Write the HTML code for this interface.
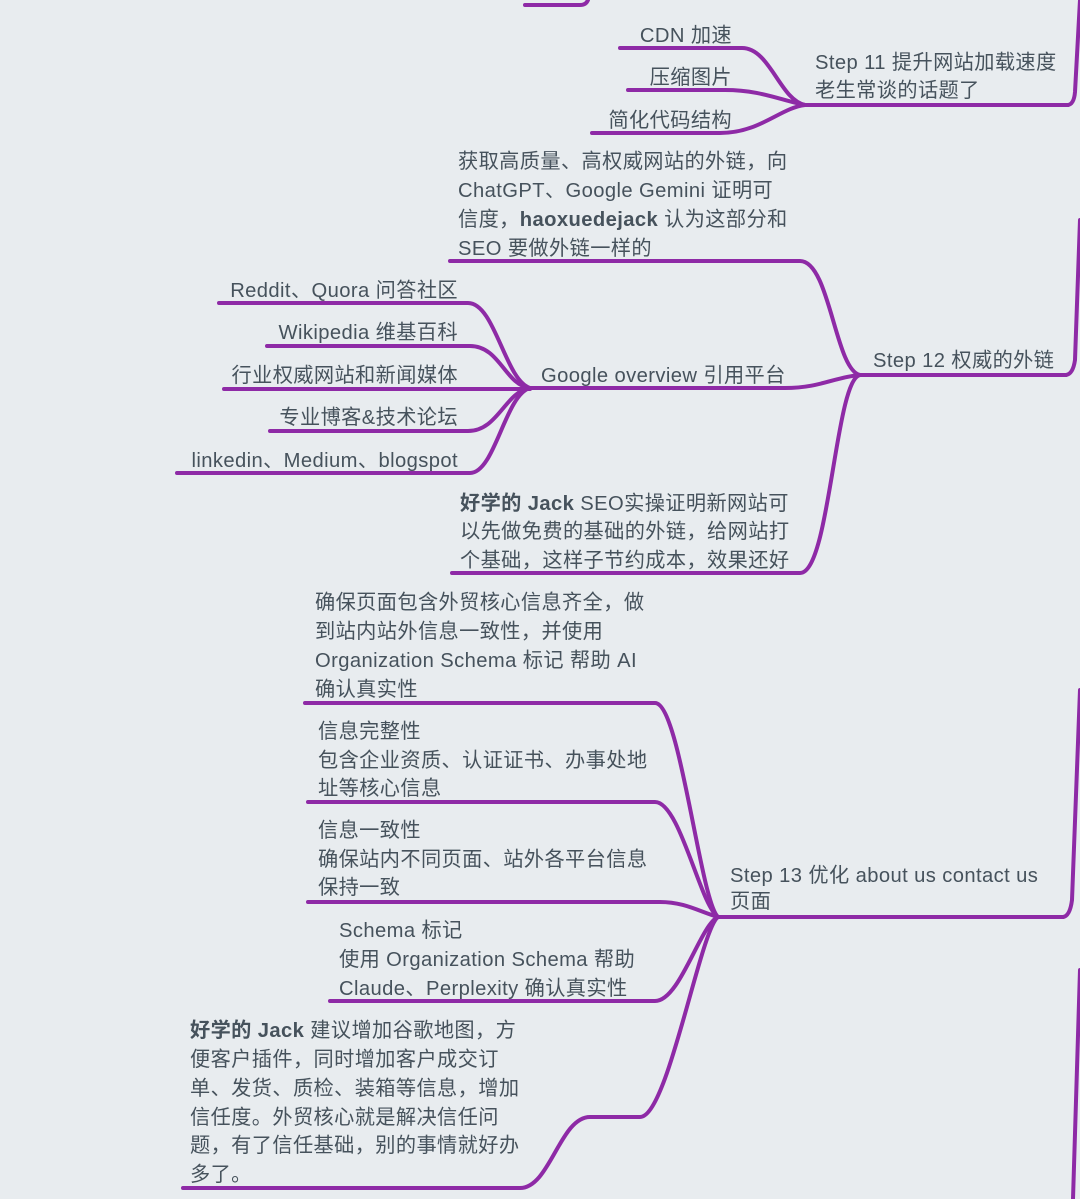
<!DOCTYPE html>
<html><head><meta charset="utf-8"><style>
html,body{margin:0;padding:0;background:#e8ecef;}
svg{display:block}
text{font-family:"Liberation Sans","Noto Sans CJK SC",sans-serif;font-size:20.2px;letter-spacing:0.4px;fill:#46525c;}
.b{font-weight:bold}
</style></head><body>
<svg width="1080" height="1199" viewBox="0 0 1080 1199" xmlns="http://www.w3.org/2000/svg">
<rect width="1080" height="1199" fill="#e8ecef"/>
<g fill="none" stroke="#8e2aa6" stroke-width="4" stroke-linecap="round">
<path d="M525 5 H580 Q586 5 588 0"/>
<path d="M1068 105 Q1074 104 1075 92 L1080 0"/>
<path d="M1066 375 Q1073 374 1075 360 L1080 220"/>
<path d="M1063 917 Q1070 916 1072 900 L1080 690"/>
<path d="M1073 1199 L1080 970"/>
<path d="M805 105 H1068"/>
<path d="M620 48 H742 C770 48 780 100 805 105"/>
<path d="M628 90 H725 C760 90 780 100 805 105"/>
<path d="M592 133 H720 C760 133 780 108 805 105"/>
<path d="M860 375 H1066"/>
<path d="M450 261 H800 C830 261 835 370 860 375"/>
<path d="M530 388 H785 C820 388 835 377 860 375"/>
<path d="M452 573 H800 C830 573 835 380 860 375"/>
<path d="M219 303 H468 C495 303 505 380 530 388"/>
<path d="M267 346 H470 C500 346 505 385 530 388"/>
<path d="M224 389 H530"/>
<path d="M270 431 H468 C498 431 505 392 530 388"/>
<path d="M177 473 H470 C495 473 505 395 530 388"/>
<path d="M718 917 H1063"/>
<path d="M305 703 H655 C680 703 700 900 718 917"/>
<path d="M308 802 H655 C680 802 700 905 718 917"/>
<path d="M308 902 H660 C685 902 700 912 718 917"/>
<path d="M330 1001 H655 C680 1001 700 925 718 917"/>
<path d="M183 1188 H520 C550 1188 560 1117 590 1117 H640 C668 1117 700 930 718 917"/>
</g>
<text x="815" y="69">Step 11 提升网站加载速度</text>
<text x="815" y="97">老生常谈的话题了</text>
<text x="732" y="42" text-anchor="end">CDN 加速</text>
<text x="732" y="84" text-anchor="end">压缩图片</text>
<text x="732" y="127" text-anchor="end">简化代码结构</text>
<text x="873" y="367">Step 12 权威的外链</text>
<text x="458" y="168">获取高质量、高权威网站的外链，向</text>
<text x="458" y="197">ChatGPT、Google Gemini 证明可</text>
<text x="458" y="226">信度，<tspan class="b">haoxuedejack</tspan> 认为这部分和</text>
<text x="458" y="255">SEO 要做外链一样的</text>
<text x="541" y="382">Google overview 引用平台</text>
<text x="458" y="297" text-anchor="end">Reddit、Quora 问答社区</text>
<text x="458" y="339" text-anchor="end">Wikipedia 维基百科</text>
<text x="458" y="382" text-anchor="end">行业权威网站和新闻媒体</text>
<text x="458" y="424" text-anchor="end">专业博客&amp;技术论坛</text>
<text x="458" y="467" text-anchor="end">linkedin、Medium、blogspot</text>
<text x="460" y="510"><tspan class="b">好学的 Jack</tspan> SEO实操证明新网站可</text>
<text x="460" y="538">以先做免费的基础的外链，给网站打</text>
<text x="460" y="567">个基础，这样子节约成本，效果还好</text>
<text x="730" y="882">Step 13 优化 about us contact us</text>
<text x="730" y="908">页面</text>
<text x="315" y="609">确保页面包含外贸核心信息齐全，做</text>
<text x="315" y="638">到站内站外信息一致性，并使用</text>
<text x="315" y="667">Organization Schema 标记 帮助 AI</text>
<text x="315" y="696">确认真实性</text>
<text x="318" y="738">信息完整性</text>
<text x="318" y="767">包含企业资质、认证证书、办事处地</text>
<text x="318" y="795">址等核心信息</text>
<text x="318" y="837">信息一致性</text>
<text x="318" y="866">确保站内不同页面、站外各平台信息</text>
<text x="318" y="894">保持一致</text>
<text x="339" y="937">Schema 标记</text>
<text x="339" y="966">使用 Organization Schema 帮助</text>
<text x="339" y="995">Claude、Perplexity 确认真实性</text>
<text x="190" y="1037"><tspan class="b">好学的 Jack</tspan> 建议增加谷歌地图，方</text>
<text x="190" y="1066">便客户插件，同时增加客户成交订</text>
<text x="190" y="1095">单、发货、质检、装箱等信息，增加</text>
<text x="190" y="1124">信任度。外贸核心就是解决信任问</text>
<text x="190" y="1152">题，有了信任基础，别的事情就好办</text>
<text x="190" y="1181">多了。</text>
</svg>
</body></html>
